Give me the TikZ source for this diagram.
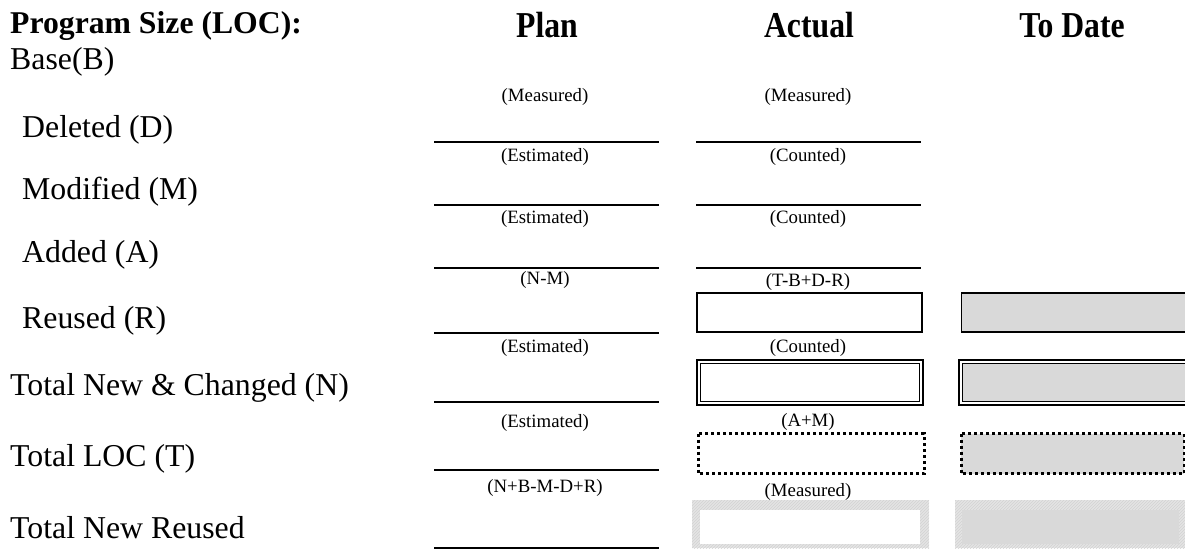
\documentclass[tikz,border=0pt]{standalone}
\usepackage{fontspec}
\setmainfont{Liberation Serif}
\usetikzlibrary{patterns}
\definecolor{boxgray}{HTML}{D9D9D9}
\definecolor{hatchA}{HTML}{E4E4E4}
\definecolor{hatchB}{HTML}{D2D2D2}
\begin{document}
\begin{tikzpicture}[x=1pt,y=-1pt,
  lab/.style={anchor=base west,inner sep=0pt,font=\fontsize{31.8}{36}\selectfont},
  small/.style={anchor=base,inner sep=0pt,font=\fontsize{18.8}{22}\selectfont},
  head/.style={anchor=base,inner sep=0pt,font=\fontsize{31.7}{36}\selectfont\bfseries},
  uline/.style={line width=2pt},
  thinbox/.style={line width=1.5pt},
  dotbox/.style={line width=3pt,dash pattern=on 3pt off 3pt},
  hatchfill/.style={fill=hatchA,postaction={pattern=north east lines,pattern color=hatchB}},
]
\useasboundingbox (0,0) rectangle (1185,550);
\fill[white] (0,0) rectangle (1185,550);

% headers
\node[head,anchor=base west] (title) at (10,33) {Program Size (LOC):};
\node[head] (hplan) at (547,37) {\scalebox{1}[1.15]{Plan}};
\node[head] (hact) at (809,37) {\scalebox{1}[1.15]{Actual}};
\node[head] (hdate) at (1072,37) {\scalebox{1}[1.15]{To Date}};

% row labels
\node[lab] (lbase) at (10,69) {Base(B)};
\node[lab] (ldel) at (22,137) {Deleted (D)};
\node[lab] (lmod) at (22,199) {Modified (M)};
\node[lab] (ladd) at (22,262) {Added (A)};
\node[lab] (lreu) at (22,328) {Reused (R)};
\node[lab] (ltnc) at (10,395) {Total New \& Changed (N)};
\node[lab] (lloc) at (10,466) {Total LOC (T)};
\node[lab] (ltnr) at (10,538) {Total New Reused};

% small labels plan
\node[small] (p1) at (545,101) {(Measured)};
\node[small] (p2) at (545,161) {(Estimated)};
\node[small] (p3) at (545,223) {(Estimated)};
\node[small] (p4) at (545,284) {(N-M)};
\node[small] (p5) at (545,352) {(Estimated)};
\node[small] (p6) at (545,427) {(Estimated)};
\node[small] (p7) at (545,492) {(N+B-M-D+R)};
% small labels actual
\node[small] (a1) at (808,101) {(Measured)};
\node[small] (a2) at (808,161) {(Counted)};
\node[small] (a3) at (808,223) {(Counted)};
\node[small] (a4) at (808,286) {(T-B+D-R)};
\node[small] (a5) at (808,352) {(Counted)};
\node[small] (a6) at (808,426) {(A+M)};
\node[small] (a7) at (808,496) {(Measured)};

% plan lines
\foreach \y in {142,205,268,333,402,470,548}
  \draw[uline] (434,\y) -- (659,\y);
% actual lines
\foreach \y in {142,205,268}
  \draw[uline] (696,\y) -- (921,\y);

% reused boxes
\draw[thinbox] (697,293) rectangle (922,332);
\fill[boxgray] (961,293) rectangle (1186,332);
\draw[line width=1.5pt] (1190,293) -- (961.5,293) -- (961.5,332) -- (1190,332);

% double boxes (N)
\draw[line width=2pt] (697,360) rectangle (923,405);
\draw[line width=1.5pt] (700.5,363.5) rectangle (919.5,401.5);
\fill[boxgray] (962,363) rectangle (1190,401);
\draw[line width=2pt] (1195,360) -- (959,360) -- (959,405) -- (1195,405);
\draw[line width=1.5pt] (1195,363.5) -- (962.5,363.5) -- (962.5,401.5) -- (1195,401.5);

% dotted boxes (T)
\draw[dotbox] (698,433.5) rectangle (924,473.5);
\fill[boxgray] (961,433.5) rectangle (1184,473.5);
\draw[dotbox] (961,433.5) rectangle (1184,473.5);

% hatched boxes
\fill[hatchfill] (692,500) rectangle (929,548);
\fill[white] (700,510) rectangle (920,544);
\fill[hatchfill] (955,500) rectangle (1185,548);
\fill[boxgray] (962,510) rectangle (1179,544);
\end{tikzpicture}
\end{document}
